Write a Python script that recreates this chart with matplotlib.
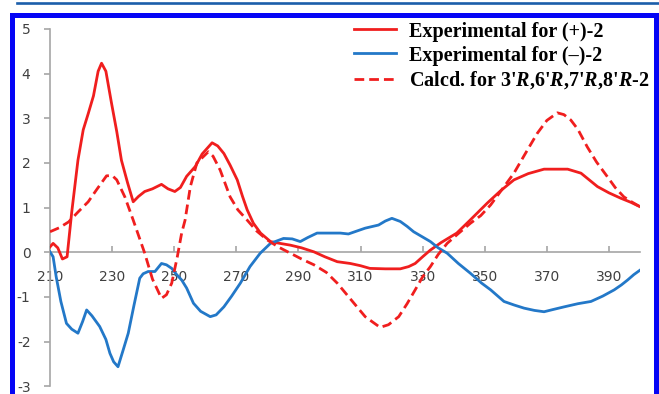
import matplotlib
matplotlib.use("Agg")
import matplotlib.pyplot as plt
from matplotlib.patches import Rectangle
from matplotlib.lines import Line2D

# ---- data ----
wl_plus = [210, 211, 212.5, 214, 215.5, 217, 219, 220.7, 222.3, 224, 225.5, 226.6, 228, 229.8,
           231.5, 233, 235, 236.8, 238.5, 240.5, 243, 245.9, 248, 250.2, 252, 254, 256.8, 259,
           262.2, 264, 266, 268, 270.3, 272, 273.5, 275.5, 277.8, 281, 284, 287.4, 291, 295,
           298.5, 302.5, 306.7, 310, 313, 318, 322.8, 325.5, 327.6, 330, 332.5, 336, 341, 345,
           350.8, 355, 359.4, 364, 369.1, 373, 376.7, 381, 386.3, 390, 393.8, 397, 400]
cd_plus = [0.12, 0.2, 0.1, -0.15, -0.1, 0.9, 2.06, 2.74, 3.1, 3.5, 4.05, 4.23, 4.05, 3.34,
           2.7, 2.06, 1.55, 1.13, 1.25, 1.36, 1.42, 1.52, 1.42, 1.36, 1.45, 1.7, 1.92, 2.2,
           2.45, 2.38, 2.21, 1.95, 1.62, 1.25, 0.95, 0.65, 0.43, 0.24, 0.2, 0.16, 0.1, 0.01,
           -0.1, -0.21, -0.25, -0.3, -0.36, -0.37, -0.37, -0.32, -0.25, -0.1, 0.05, 0.22, 0.43, 0.7,
           1.1, 1.37, 1.62, 1.76, 1.86, 1.86, 1.86, 1.77, 1.47, 1.33, 1.21, 1.12, 1.02]

wl_minus = [210, 211, 212, 213.5, 215.3, 217, 219, 220.5, 221.8, 223.5, 226, 228, 229.3, 230.5,
            231.9, 233.5, 235.2, 237, 238.9, 240, 241.6, 243.8, 245.9, 247.5, 249.2, 250.8, 252.4,
            254, 256.2, 258.5, 261.6, 263.5, 266, 268.5, 271.3, 274.4, 277.7, 281, 285.2, 288,
            290.6, 293, 296, 300, 303.5, 306.1, 309, 311.5, 315.8, 318, 320.1, 322.8, 325, 327.1,
            332.5, 335, 337.9, 341.5, 345.4, 349, 351.9, 356.2, 359.5, 362.7, 366, 369.1, 372,
            375.6, 380, 384.2, 388, 391.7, 394, 396, 398, 400]
cd_minus = [0.01, -0.1, -0.55, -1.1, -1.59, -1.72, -1.81, -1.55, -1.29, -1.42, -1.66, -1.95, -2.26, -2.45,
            -2.56, -2.2, -1.81, -1.2, -0.58, -0.48, -0.43, -0.43, -0.25, -0.28, -0.36, -0.5, -0.62,
            -0.8, -1.14, -1.32, -1.44, -1.4, -1.22, -0.98, -0.69, -0.32, -0.02, 0.2, 0.31, 0.3,
            0.24, 0.33, 0.43, 0.43, 0.43, 0.41, 0.48, 0.54, 0.61, 0.7, 0.76, 0.69, 0.58, 0.46,
            0.24, 0.1, -0.02, -0.25, -0.47, -0.69, -0.84, -1.1, -1.18, -1.25, -1.3, -1.33, -1.28,
            -1.22, -1.15, -1.1, -0.98, -0.84, -0.73, -0.62, -0.5, -0.4]

wl_calc = [210, 213, 216, 219, 222.3, 225, 228.2, 230, 231.5, 234.1, 236.8, 240.5, 243, 245.9,
           247.5, 249.2, 251, 252.4, 253.5, 255.2, 257.3, 261, 262.5, 264.8, 268, 270.5, 273.5,
           276.5, 279.9, 283.5, 287.4, 291, 295, 299, 302.5, 306.1, 311.5, 316.3, 319, 322.3,
           325, 327.6, 330, 332.5, 335, 337.9, 341.5, 345.4, 348.7, 351.9, 355.5, 359.4, 363,
           366.9, 370, 373.4, 375.5, 377.7, 380, 383, 386, 389.5, 392, 394.8, 397.5, 400]
cd_calc = [0.46, 0.55, 0.68, 0.9, 1.13, 1.4, 1.71, 1.72, 1.62, 1.24, 0.72, -0.02, -0.6, -1.03,
           -0.95, -0.69, -0.1, 0.43, 0.72, 1.47, 2.0, 2.25, 2.15, 1.84, 1.24, 0.95, 0.72,
           0.48, 0.28, 0.12, -0.02, -0.15, -0.28, -0.45, -0.69, -0.99, -1.44, -1.68, -1.62, -1.44,
           -1.15, -0.84, -0.55, -0.32, -0.05, 0.2, 0.42, 0.65, 0.82, 1.06, 1.4, 1.77, 2.2,
           2.66, 2.95, 3.12, 3.08, 2.96, 2.75, 2.36, 2.02, 1.69, 1.45, 1.24, 1.12, 1.02]

x_ticks = [210, 230, 250, 270, 290, 310, 330, 350, 370, 390]
y_ticks = [5, 4, 3, 2, 1, 0, -1, -2, -3]
labels = ["Experimental for (+)-2", "Experimental for (\u2013)-2",
          "Calcd. for 3'$R$,6'$R$,7'$R$,8'$R$-2"]

# ---- style ----
plt.rcParams['mathtext.fontset'] = 'custom'
plt.rcParams['mathtext.it'] = 'Liberation Serif:italic:bold'
plt.rcParams['mathtext.rm'] = 'Liberation Serif:bold'

W, H = 659, 394
fig = plt.figure(figsize=(W / 100, H / 100), dpi=100)
fig.patch.set_facecolor('white')

def fx(px):
    return px / W

def fy(py):
    return (H - py) / H

ax = fig.add_axes([fx(50), fy(386.4), fx(640) - fx(50), fy(28.8) - fy(386.4)])
ax.set_xlim(210, 400)
ax.set_ylim(-3, 5)

red = '#F01E1E'
blue = '#2378C8'
ax.plot(wl_plus, cd_plus, color=red, lw=2.0, solid_joinstyle='round', label=labels[0], zorder=3)
ax.plot(wl_minus, cd_minus, color=blue, lw=2.0, solid_joinstyle='round', label=labels[1], zorder=3)
ax.plot(wl_calc, cd_calc, color=red, lw=2.0, dashes=(3.5, 1.8), label=labels[2], zorder=3)

axis_col = '#A6A6A6'
for s in ['top', 'right']:
    ax.spines[s].set_visible(False)
ax.spines['left'].set_color(axis_col)
ax.spines['bottom'].set_color(axis_col)
ax.spines['left'].set_linewidth(1.2)
ax.spines['bottom'].set_linewidth(1.2)
ax.spines['bottom'].set_position(('data', 0))

ax.set_xticks(x_ticks)
ax.set_xticklabels([str(t) for t in x_ticks])
ax.set_yticks(y_ticks)
ax.set_yticklabels([str(t) for t in y_ticks])
ax.tick_params(axis='x', direction='in', length=4, width=1.2, color=axis_col, pad=13,
               labelsize=10, labelcolor='#404040')
ax.tick_params(axis='y', direction='out', length=4, width=1.2, color=axis_col, pad=10,
               labelsize=10, labelcolor='#404040')
for lab in ax.get_xticklabels() + ax.get_yticklabels():
    lab.set_family('DejaVu Sans')

leg = ax.legend(loc='upper left', bbox_to_anchor=(fx(354), fy(21.5)), bbox_transform=fig.transFigure,
                frameon=False, borderpad=0, borderaxespad=0, handlelength=2.1, handletextpad=0.65,
                labelspacing=0.2, prop={'family': 'Liberation Serif', 'weight': 'bold', 'size': 14.5})

# ---- decorative frame ----
fig.add_artist(Line2D([fx(17), fx(659)], [fy(2.5), fy(2.5)], color='#1B5EAA', lw=1.9,
                      transform=fig.transFigure))
fig.add_artist(Rectangle((fx(11.5), fy(420)), fx(655.5) - fx(11.5), fy(14.5) - fy(420),
                         fill=False, edgecolor='#0505F5', lw=3.6, transform=fig.transFigure,
                         zorder=10))

fig.savefig('out.png', dpi=100)
